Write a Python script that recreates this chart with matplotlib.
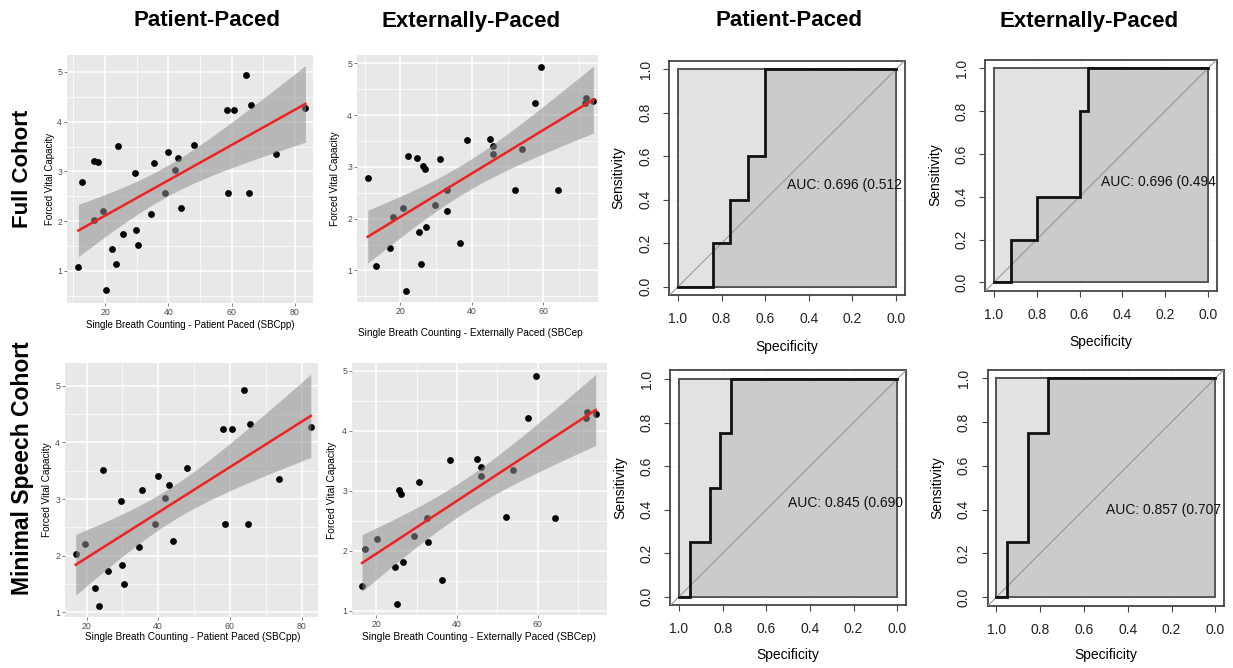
import numpy as np
import matplotlib
matplotlib.use('Agg')
import matplotlib.pyplot as plt
from matplotlib.patches import Rectangle

W, H = 1233, 668
plt.rcParams['font.family'] = ['Liberation Sans', 'DejaVu Sans']

# ---------------- data ----------------
full_sbcpp = [11.6, 12.6, 16.5, 16.6, 17.7, 19.3, 20.3, 22.3, 23.4, 24.2, 25.8, 29.4, 29.9, 30.4, 34.4,
              35.4, 38.9, 40.0, 42.1, 43.2, 44.1, 48.1, 58.4, 58.9, 60.8, 64.5, 65.4, 66.0, 74.0, 83.3]
full_fvc_pp = [1.07, 2.79, 2.03, 3.21, 3.18, 2.21, 0.62, 1.44, 1.13, 3.52, 1.74, 2.97, 1.83, 1.52, 2.15,
               3.17, 2.56, 3.40, 3.03, 3.26, 2.26, 3.54, 4.23, 2.57, 4.23, 4.93, 2.56, 4.33, 3.36, 4.28]

full_sbcep = [10.9, 13.3, 17.2, 17.9, 20.8, 21.7, 22.3, 24.8, 25.2, 25.9, 26.3, 26.9, 27.3, 29.8, 31.2,
              33.2, 33.2, 36.7, 38.7, 45.1, 46.0, 46.0, 52.1, 54.0, 57.6, 59.4, 64.0, 71.6, 71.9, 74.0]
full_fvc_ep = [2.79, 1.08, 1.44, 2.03, 2.21, 0.61, 3.21, 3.18, 1.74, 1.12, 3.02, 2.95, 1.83, 2.26, 3.16,
               2.55, 2.14, 1.52, 3.52, 3.53, 3.40, 3.25, 2.56, 3.35, 4.23, 4.93, 2.55, 4.24, 4.32, 4.28]

min_sbcpp = [17.0, 19.5, 22.5, 23.5, 24.6, 26.0, 29.6, 30.0, 30.5, 34.7, 35.6, 39.0, 40.0, 42.0, 43.1,
             44.0, 48.0, 58.1, 58.7, 60.6, 64.0, 65.0, 65.6, 73.6, 82.6]
min_fvc_pp = [2.04, 2.21, 1.44, 1.12, 3.52, 1.74, 2.96, 1.83, 1.51, 2.15, 3.16, 2.56, 3.40, 3.02, 3.25,
              2.26, 3.54, 4.23, 2.56, 4.23, 4.93, 2.56, 4.33, 3.35, 4.28]

min_sbcep = [16.5, 17.1, 20.2, 24.7, 25.1, 25.6, 26.2, 26.7, 29.3, 30.7, 32.7, 32.8, 36.4, 38.3, 45.0,
             46.0, 45.9, 52.1, 54.0, 57.6, 59.7, 64.3, 71.9, 72.2, 74.4]
min_fvc_ep = [1.42, 2.03, 2.20, 1.73, 1.11, 3.02, 2.95, 1.81, 2.25, 3.15, 2.54, 2.14, 1.51, 3.51, 3.53,
              3.39, 3.24, 2.56, 3.34, 4.22, 4.92, 2.54, 4.21, 4.32, 4.28]

# ROC step curves (specificity, sensitivity)
roc_full_pp_spec = [1.0, 0.84, 0.84, 0.76, 0.76, 0.68, 0.68, 0.60, 0.60, 0.0]
roc_full_pp_sens = [0.0, 0.0, 0.2, 0.2, 0.4, 0.4, 0.6, 0.6, 1.0, 1.0]
roc_full_ep_spec = [1.0, 0.92, 0.92, 0.80, 0.80, 0.60, 0.60, 0.56, 0.56, 0.0]
roc_full_ep_sens = [0.0, 0.0, 0.2, 0.2, 0.4, 0.4, 0.8, 0.8, 1.0, 1.0]
roc_min_pp_spec = [1.0, 0.952, 0.952, 0.857, 0.857, 0.810, 0.810, 0.762, 0.762, 0.0]
roc_min_pp_sens = [0.0, 0.0, 0.25, 0.25, 0.5, 0.5, 0.75, 0.75, 1.0, 1.0]
roc_min_ep_spec = [1.0, 0.952, 0.952, 0.857, 0.857, 0.762, 0.762, 0.0]
roc_min_ep_sens = [0.0, 0.0, 0.25, 0.25, 0.75, 0.75, 1.0, 1.0]

auc_labels = ["AUC: 0.696 (0.512", "AUC: 0.696 (0.494", "AUC: 0.845 (0.690", "AUC: 0.857 (0.707"]
col_titles = ["Patient-Paced", "Externally-Paced", "Patient-Paced", "Externally-Paced"]
row_titles = ["Full Cohort", "Minimal Speech Cohort"]

# Student t 0.975 quantiles for the 95% band
T975 = {28: 2.0484, 23: 2.0687}

fig = plt.figure(figsize=(W / 100, H / 100), dpi=100)


def px_axes(x0, y0, x1, y1):
    return fig.add_axes([x0 / W, 1 - y1 / H, (x1 - x0) / W, (y1 - y0) / H])


def ftext(x, y, s, **kw):
    fig.text(x / W, 1 - y / H, s, **kw)


def scatter_panel(box, x, y, xlim, ylim, xticks, xminor, yminor):
    ax = px_axes(*box)
    ax.set_facecolor('#E8E8E8')
    for sp in ax.spines.values():
        sp.set_visible(False)
    ax.set_axisbelow(True)
    ax.set_xlim(*xlim)
    ax.set_ylim(*ylim)
    ax.set_xticks(xticks)
    ax.set_yticks([1, 2, 3, 4, 5])
    ax.set_xticks(xminor, minor=True)
    ax.set_yticks(yminor, minor=True)
    ax.grid(which='major', color='white', lw=1.1)
    ax.grid(which='minor', color='white', lw=0.5)
    ax.tick_params(which='major', length=2, width=0.5, color='#4d4d4d', labelsize=6.3,
                   labelcolor='#4d4d4d', pad=1.5)
    ax.tick_params(which='minor', length=0)
    xa = np.asarray(x)
    ya = np.asarray(y)
    ax.scatter(xa, ya, s=24, c='black', lw=0, zorder=3)
    b, a = np.polyfit(xa, ya, 1)
    n = len(xa)
    xs = np.linspace(xa.min(), xa.max(), 100)
    yhat = a + b * xs
    resid = ya - (a + b * xa)
    s = np.sqrt(np.sum(resid ** 2) / (n - 2))
    se = s * np.sqrt(1 / n + (xs - xa.mean()) ** 2 / np.sum((xa - xa.mean()) ** 2))
    t = T975[n - 2]
    ax.fill_between(xs, yhat - t * se, yhat + t * se, color='#8f8f8f', alpha=0.55, lw=0, zorder=4)
    ax.plot(xs, yhat, color='#ee2222', lw=1.8, zorder=5)
    return ax


def roc_panel(box, spec, sens, auc_txt, auc_y):
    ax = px_axes(*box)
    ax.set_xlim(1.04, -0.04)
    ax.set_ylim(-0.04, 1.04)
    ax.set_facecolor('white')
    ticks = [0.0, 0.2, 0.4, 0.6, 0.8, 1.0]
    ax.set_xticks(ticks)
    ax.set_yticks(ticks)
    ax.set_xticklabels(['%.1f' % v for v in ticks])
    ax.set_yticklabels(['%.1f' % v for v in ticks])
    for v in ticks:
        ax.axvline(v, color='#e6e6e6', lw=0.6, ls=':', zorder=0)
        ax.axhline(v, color='#e6e6e6', lw=0.6, ls=':', zorder=0)
    for sp in ax.spines.values():
        sp.set_color('#444444')
        sp.set_linewidth(1.3)
    ax.tick_params(length=4, width=0.8, color='#444444', labelsize=10, labelcolor='#222222', pad=8)
    ax.tick_params(axis='y', labelrotation=90)
    for lbl in ax.get_yticklabels():
        lbl.set_va('center')
    ax.add_patch(Rectangle((0, 0), 1, 1, facecolor='#e2e2e2', edgecolor='#555555', lw=1.3, zorder=1))
    sp_a = np.asarray(spec)
    se_a = np.asarray(sens)
    ax.fill(np.r_[sp_a, 0.0, 1.0], np.r_[se_a, 0.0, 0.0], facecolor='#cbcbcb', edgecolor='none', zorder=2)
    ax.add_patch(Rectangle((0, 0), 1, 1, facecolor='none', edgecolor='#555555', lw=1.3, zorder=3))
    ax.plot([1.04, -0.04], [-0.04, 1.04], color='#999999', lw=0.8, zorder=4)
    ax.plot(sp_a, se_a, color='#111111', lw=2.0, zorder=5, solid_joinstyle='miter')
    ax.text(0.5, auc_y, auc_txt, ha='left', va='center', fontsize=10, color='#111111', zorder=6)
    return ax


# ---------------- scatter panels ----------------
scatter_panel((67, 55, 313, 303), full_sbcpp, full_fvc_pp, (8.0, 85.7), (0.356, 5.34),
              [20, 40, 60, 80], [10, 30, 50, 70], [0.5, 1.5, 2.5, 3.5, 4.5])
scatter_panel((357, 55, 598, 302), full_sbcep, full_fvc_ep, (7.9, 75.3), (0.39, 5.16),
              [20, 40, 60], [10, 30, 50, 70], [0.5, 1.5, 2.5, 3.5, 4.5])
scatter_panel((65, 363, 318, 617), min_sbcpp, min_fvc_pp, (14.0, 84.6), (0.92, 5.4),
              [20, 40, 60, 80], [30, 50, 70], [1.5, 2.5, 3.5, 4.5])
scatter_panel((352, 363, 607, 615), min_sbcep, min_fvc_ep, (14.0, 77.2), (0.93, 5.13),
              [20, 40, 60], [30, 50, 70], [1.5, 2.5, 3.5, 4.5])

ftext(190, 325, "Single Breath Counting - Patient Paced (SBCpp)", ha='center', va='center', fontsize=7)
ftext(358, 333, "Single Breath Counting - Externally Paced (SBCep", ha='left', va='center', fontsize=7.2)
ftext(193, 637, "Single Breath Counting - Patient Paced (SBCpp)", ha='center', va='center', fontsize=7.2)
ftext(479, 637, "Single Breath Counting - Externally Paced (SBCep)", ha='center', va='center', fontsize=7.4)
ftext(50, 179, "Forced Vital Capacity", rotation=90, ha='center', va='center', fontsize=7)
ftext(335, 179, "Forced Vital Capacity", rotation=90, ha='center', va='center', fontsize=7.2)
ftext(47, 490, "Forced Vital Capacity", rotation=90, ha='center', va='center', fontsize=7.2)
ftext(332, 490, "Forced Vital Capacity", rotation=90, ha='center', va='center', fontsize=7.4)

# ---------------- ROC panels ----------------
roc_panel((669.3, 60.6, 904.7, 295.4), roc_full_pp_spec, roc_full_pp_sens, auc_labels[0], 0.468)
roc_panel((985.4, 59.7, 1216.6, 290.9), roc_full_ep_spec, roc_full_ep_sens, auc_labels[1], 0.467)
roc_panel((670.3, 370.3, 906.0, 605.4), roc_min_pp_spec, roc_min_pp_sens, auc_labels[2], 0.43)
roc_panel((987.5, 369.5, 1224.1, 606.0), roc_min_ep_spec, roc_min_ep_sens, auc_labels[3], 0.40)

ftext(787, 347, "Specificity", ha='center', va='center', fontsize=10)
ftext(1101, 342, "Specificity", ha='center', va='center', fontsize=10)
ftext(788, 655, "Specificity", ha='center', va='center', fontsize=10)
ftext(1106, 655, "Specificity", ha='center', va='center', fontsize=10)
ftext(618, 178, "Sensitivity", rotation=90, ha='center', va='center', fontsize=10)
ftext(935, 175, "Sensitivity", rotation=90, ha='center', va='center', fontsize=10)
ftext(620, 488, "Sensitivity", rotation=90, ha='center', va='center', fontsize=10)
ftext(937, 488, "Sensitivity", rotation=90, ha='center', va='center', fontsize=10)

# ---------------- titles ----------------
for xc, s in zip([207, 471, 789, 1089], col_titles):
    ftext(xc, 21, s, ha='center', va='center', fontsize=16, fontweight='bold')
ftext(23, 169, row_titles[0], rotation=90, ha='center', va='center', fontsize=16, fontweight='bold')
ftext(23, 468, row_titles[1], rotation=90, ha='center', va='center', fontsize=16.5, fontweight='bold')

fig.savefig('out.png', dpi=100)
